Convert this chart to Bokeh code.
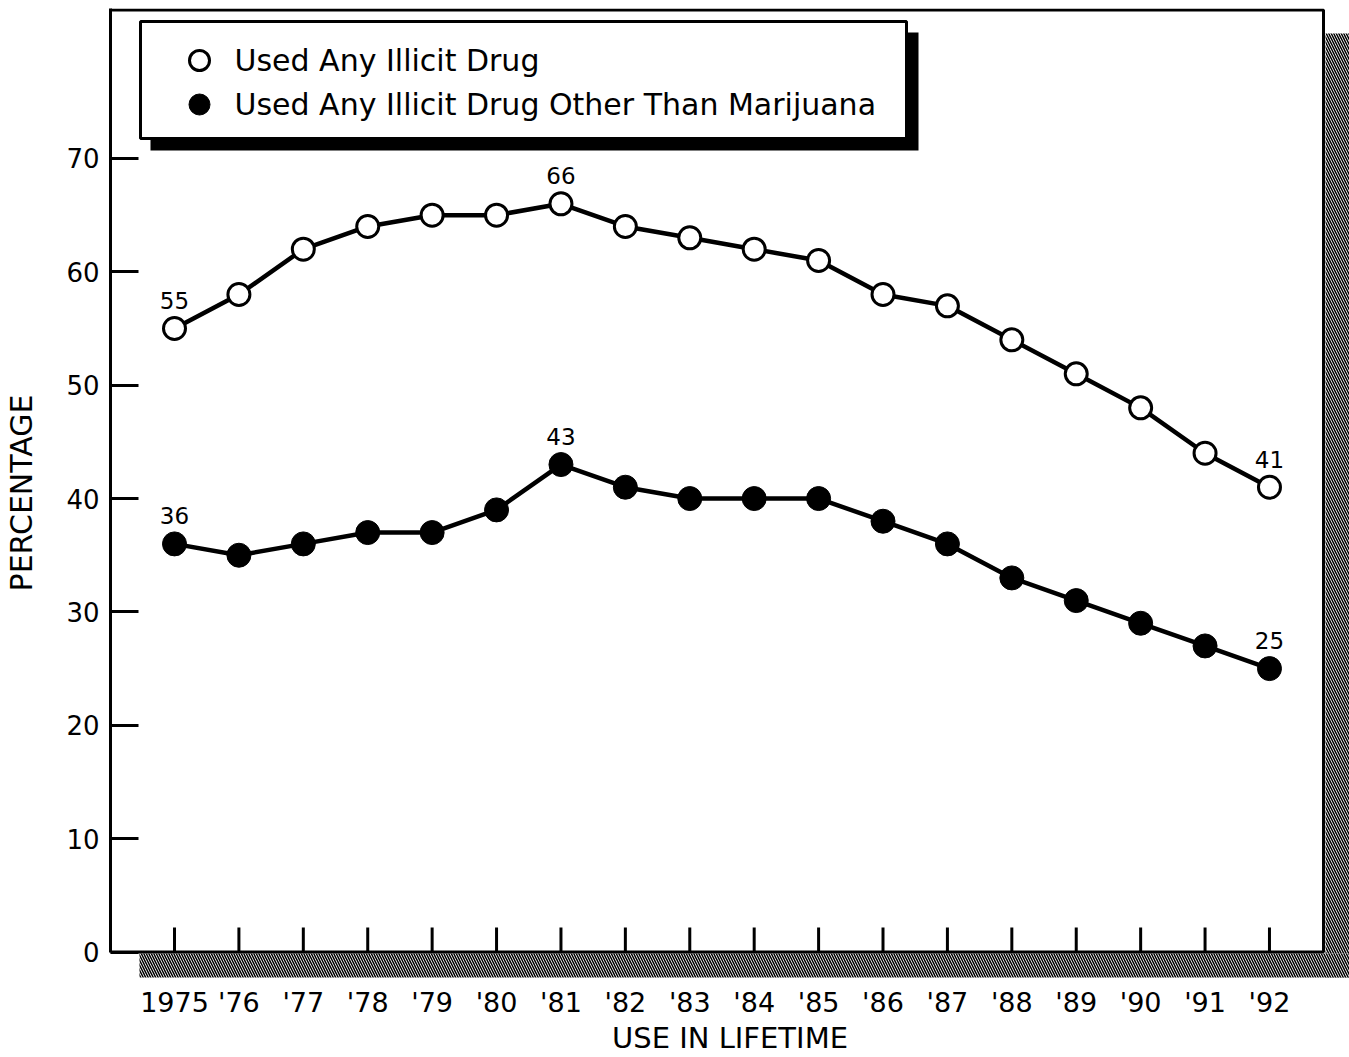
from bokeh.plotting import figure
from bokeh.models import Range1d, FixedTicker, ColumnDataSource
from bokeh.core.properties import value
from bokeh.embed import file_html
from bokeh.resources import INLINE

# ---------------- data ----------------
years = list(range(1975, 1993))
year_labels = ["1975", "'76", "'77", "'78", "'79", "'80", "'81", "'82", "'83",
               "'84", "'85", "'86", "'87", "'88", "'89", "'90", "'91", "'92"]
any_illicit = [55, 58, 62, 64, 65, 65, 66, 64, 63, 62, 61, 58, 57, 54, 51, 48, 44, 41]
other_than_marijuana = [36, 35, 36, 37, 37, 39, 43, 41, 40, 40, 40, 38, 36, 33, 31, 29, 27, 25]
labeled_years = [1975, 1981, 1992]
y_ticks = [0, 10, 20, 30, 40, 50, 60, 70]
series_names = ["Used Any Illicit Drug", "Used Any Illicit Drug Other Than Marijuana"]
x_title = "USE IN LIFETIME"
y_title = "PERCENTAGE"

FONT = "DejaVu Sans"

# ------------- layout helpers (canvas pixels -> data) -------------
PX_YEAR = 64.41
PX_UNIT = 11.336
def dx(px):
    return 1975 + (px - 174) / PX_YEAR
def dy(py):
    return (951.5 - py) / PX_UNIT

p = figure(width=1349, height=1057,
           x_range=Range1d(dx(110), dx(1349)),
           y_range=Range1d(dy(977), dy(8)),
           min_border_left=110, min_border_right=0,
           min_border_top=8, min_border_bottom=80,
           output_backend="svg", toolbar_location=None, tools="")
p.outline_line_color = None
p.xgrid.visible = False
p.ygrid.visible = False
p.background_fill_color = "white"
p.border_fill_color = "white"

# y axis
ya = p.yaxis[0]
ya.ticker = FixedTicker(ticks=y_ticks)
ya.bounds = (0, dy(8))
ya.axis_line_width = 3
ya.axis_line_color = "black"
ya.major_tick_line_width = 3
ya.major_tick_in = 28
ya.major_tick_out = 0
ya.minor_tick_line_color = None
ya.major_label_text_font = FONT
ya.major_label_text_font_size = "26px"
ya.major_label_text_color = "black"
ya.major_label_standoff = 11
ya.axis_label = y_title
ya.axis_label_text_font = FONT
ya.axis_label_text_font_size = "30px"
ya.axis_label_text_font_style = "normal"
ya.axis_label_text_color = "black"
ya.axis_label_standoff = 24

# x axis (line and ticks are drawn at y = 0 below)
xa = p.xaxis[0]
xa.ticker = FixedTicker(ticks=years)
xa.major_label_overrides = {y: l for y, l in zip(years, year_labels)}
xa.axis_line_color = None
xa.major_tick_line_color = None
xa.major_tick_in = 0
xa.major_tick_out = 0
xa.minor_tick_line_color = None
xa.major_label_text_font = FONT
xa.major_label_text_font_size = "27px"
xa.major_label_text_color = "black"
xa.major_label_standoff = 9
xa.axis_label = x_title
xa.axis_label_text_font = FONT
xa.axis_label_text_font_size = "29px"
xa.axis_label_text_font_style = "normal"
xa.axis_label_text_color = "black"
xa.axis_label_standoff = 0

# shadows (hatched)
hatch = dict(fill_color="white", line_color=None, hatch_pattern="\\",
             hatch_color="black", hatch_scale=5, hatch_weight=1.5)
p.quad(left=dx(1325), right=dx(1352), bottom=dy(980), top=dy(33), **hatch)
p.quad(left=dx(139), right=dx(1352), bottom=dy(980), top=dy(953), **hatch)

# plot border
p.quad(left=dx(110), right=dx(1323), bottom=0, top=dy(9.5),
       fill_color=None, line_color="black", line_width=3)

# x ticks inside
p.segment(x0=years, y0=[0] * len(years), x1=years, y1=[dy(927)] * len(years),
          line_color="black", line_width=3)

# series
src = ColumnDataSource(dict(year=years, a=any_illicit, b=other_than_marijuana))
p.line("year", "a", source=src, line_color="black", line_width=4.5)
p.line("year", "b", source=src, line_color="black", line_width=4.5)
p.scatter("year", "a", source=src, marker="circle", size=22,
          fill_color="white", line_color="black", line_width=3)
p.scatter("year", "b", source=src, marker="circle", size=24,
          fill_color="black", line_color="black", line_width=1)

# value labels
lab_x, lab_y, lab_t = [], [], []
for yr in labeled_years:
    i = years.index(yr)
    for series in (any_illicit, other_than_marijuana):
        lab_x.append(yr)
        lab_y.append(series[i])
        lab_t.append(str(series[i]))
p.text(x=lab_x, y=lab_y, text=lab_t, text_align="center",
       text_baseline="middle", y_offset=-28,
       text_font=value(FONT), text_font_size="23px", text_color="black")

# legend box with drop shadow
p.quad(left=dx(150), right=dx(918), bottom=dy(150), top=dy(32),
       fill_color="black", line_color=None)
p.quad(left=dx(140), right=dx(906), bottom=dy(138), top=dy(21),
       fill_color="white", line_color="black", line_width=3)
lx = [dx(199), dx(199)]
ly = [dy(60), dy(104)]
p.scatter(x=lx[:1], y=ly[:1], marker="circle", size=20,
          fill_color="white", line_color="black", line_width=3)
p.scatter(x=lx[1:], y=ly[1:], marker="circle", size=21,
          fill_color="black", line_color="black", line_width=1)
p.text(x=[dx(234), dx(234)], y=ly, text=series_names, text_align="left",
       text_baseline="middle", text_font=value(FONT), text_font_size="30px",
       text_color="black")

open("out.html", "w").write(file_html(p, INLINE))
